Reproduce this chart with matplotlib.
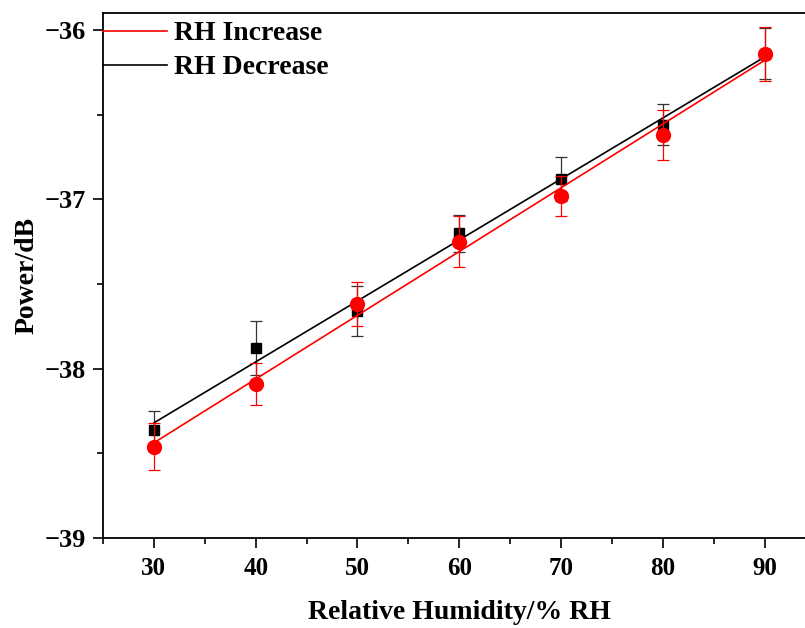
import numpy as np
import matplotlib
matplotlib.use("Agg")
import matplotlib.pyplot as plt
from matplotlib.ticker import MultipleLocator

plt.rcParams['font.family'] = ['Liberation Serif', 'DejaVu Serif']
plt.rcParams['font.weight'] = 'bold'

# data
rh = np.array([30, 40, 50, 60, 70, 80, 90])
power_inc = np.array([-38.46, -38.09, -37.62, -37.25, -36.98, -36.62, -36.14])
err_inc = np.array([0.14, 0.125, 0.13, 0.15, 0.12, 0.15, 0.16])
power_dec = np.array([-38.36, -37.88, -37.66, -37.20, -36.88, -36.56, -36.14])
err_dec = np.array([0.11, 0.16, 0.15, 0.11, 0.13, 0.12, 0.15])

fig = plt.figure(figsize=(8.05, 6.28), dpi=100)
ax = fig.add_axes([0.128, 0.1433, 0.885, 0.836])

# linear fits
k_dec, b_dec = np.polyfit(rh, power_dec, 1)
k_inc, b_inc = np.polyfit(rh, power_inc, 1)
xf = np.array([rh[0], rh[-1]])

ax.errorbar(rh, power_dec, yerr=err_dec, fmt='s', color='black', ms=7.5,
            ecolor='#333333', elinewidth=0.9, capsize=4.3, capthick=0.9, zorder=3)
ax.plot(xf, k_dec * xf + b_dec, color='black', lw=1.2, label='RH Decrease', zorder=4)
ax.errorbar(rh, power_inc, yerr=err_inc, fmt='o', color='red', ms=10,
            ecolor='red', elinewidth=0.9, capsize=4.3, capthick=0.9, zorder=5)
ax.plot(xf, k_inc * xf + b_inc, color='red', lw=1.2, label='RH Increase', zorder=6)

ax.set_xlim(25, 95)
ax.set_ylim(-39, -35.9)
ax.xaxis.set_major_locator(MultipleLocator(10))
ax.xaxis.set_minor_locator(MultipleLocator(5))
ax.yaxis.set_major_locator(MultipleLocator(1))
ax.yaxis.set_minor_locator(MultipleLocator(0.5))
ax.set_xticks([30, 40, 50, 60, 70, 80, 90])

ax.tick_params(which='both', direction='out', width=1.2, top=False, right=False)
ax.tick_params(which='major', length=7)
ax.tick_params(which='minor', length=4)
ax.tick_params(axis='x', labelsize=18, pad=7)
ax.tick_params(axis='y', labelsize=19, pad=5)
for s in ax.spines.values():
    s.set_linewidth(1.3)

ax.set_xlabel('Relative Humidity/% RH', fontsize=20, fontweight='bold', labelpad=14)
ax.set_ylabel('Power/dB', fontsize=20, fontweight='bold', labelpad=4)

h, l = ax.get_legend_handles_labels()
ax.legend([h[1], h[0]], [l[1], l[0]], loc='upper left', bbox_to_anchor=(0.0, 0.985),
          frameon=False, fontsize=20, handlelength=2.3, handletextpad=0.25,
          borderaxespad=0, borderpad=0, labelspacing=0.31)

fig.savefig('out.png', dpi=100)
